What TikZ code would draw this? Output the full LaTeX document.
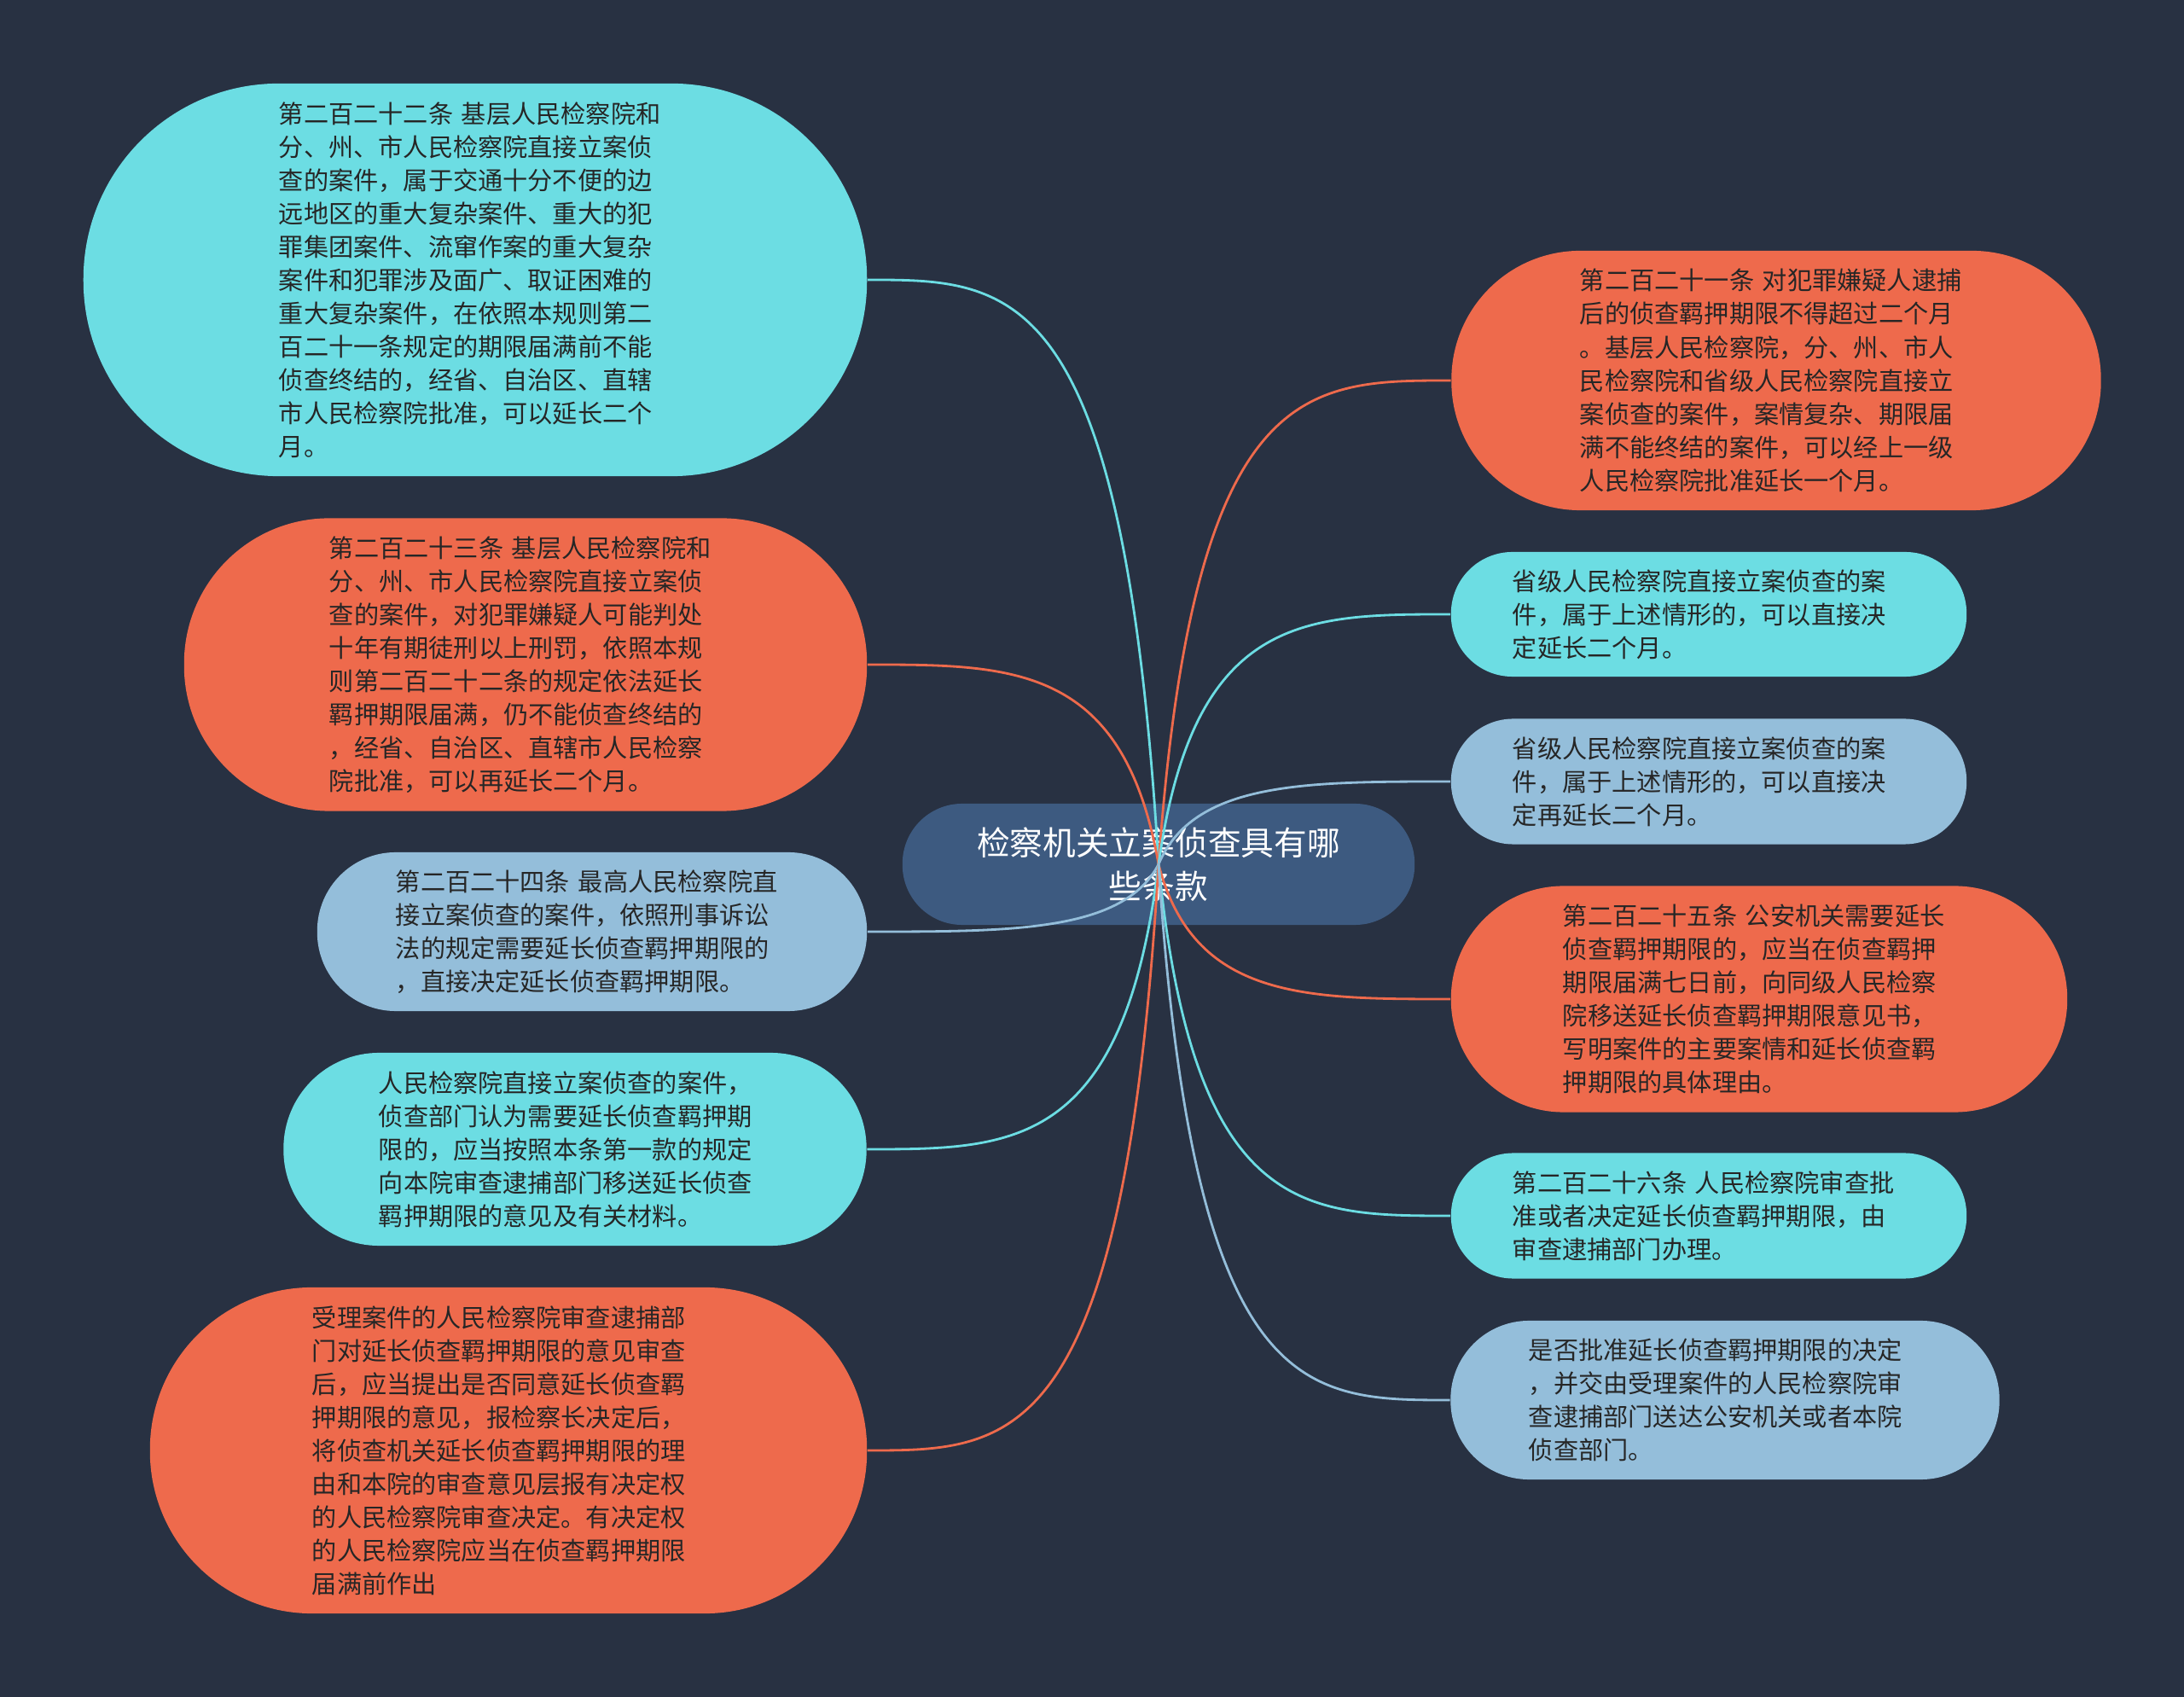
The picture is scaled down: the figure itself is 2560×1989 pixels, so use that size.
\documentclass[tikz,border=0pt]{standalone}
\usepackage{fontspec}
\newfontfamily\cjk{Noto Sans CJK SC}
\usetikzlibrary{calc}
\definecolor{bg}{HTML}{283142}
\definecolor{cy}{HTML}{6CDDE3}
\definecolor{og}{HTML}{EE6A4C}
\definecolor{lb}{HTML}{94BEDA}
\definecolor{rt}{HTML}{3D5A80}
\definecolor{tx}{HTML}{262626}
\begin{document}
\begin{tikzpicture}[x=0.01cm,y=-0.01cm,
  box/.style={rectangle, text width=4.6cm, align=left, inner sep=0pt, text=tx, font=\cjk\fontsize{8.3}{11.1}\selectfont},
  rootbox/.style={rectangle, align=center, inner sep=0pt, text=white, fill=rt, font=\cjk\fontsize{11}{14.5}\selectfont},
  conn/.style={line width=0.8pt}]
\fill[bg] (0,0) rectangle (2560,1989);
\useasboundingbox (0,0) rectangle (2560,1989);

\node[rootbox, minimum width=6.0cm, minimum height=1.42cm, rounded corners=0.70cm] (R) at (1358,1013) {检察机关立案侦查具有哪\\些条款};

\node[box, fill=cy, minimum width=9.18cm, minimum height=4.6cm, rounded corners=2.29cm] (L1) at (557,328) {第二百二十二条 基层人民检察院和\\分、州、市人民检察院直接立案侦\\查的案件，属于交通十分不便的边\\远地区的重大复杂案件、重大的犯\\罪集团案件、流窜作案的重大复杂\\案件和犯罪涉及面广、取证困难的\\重大复杂案件，在依照本规则第二\\百二十一条规定的期限届满前不能\\侦查终结的，经省、自治区、直辖\\市人民检察院批准，可以延长二个\\月。};

\node[box, fill=og, minimum width=8.0cm, minimum height=3.43cm, rounded corners=1.70cm] (L2) at (616,779) {第二百二十三条 基层人民检察院和\\分、州、市人民检察院直接立案侦\\查的案件，对犯罪嫌疑人可能判处\\十年有期徒刑以上刑罚，依照本规\\则第二百二十二条的规定依法延长\\羁押期限届满，仍不能侦查终结的\\，经省、自治区、直辖市人民检察\\院批准，可以再延长二个月。};

\node[box, fill=lb, minimum width=6.44cm, minimum height=1.86cm, rounded corners=0.92cm] (L3) at (694,1092) {第二百二十四条 最高人民检察院直\\接立案侦查的案件，依照刑事诉讼\\法的规定需要延长侦查羁押期限的\\，直接决定延长侦查羁押期限。};

\node[box, fill=cy, minimum width=6.83cm, minimum height=2.26cm, rounded corners=1.12cm] (L4) at (674,1347) {人民检察院直接立案侦查的案件，\\侦查部门认为需要延长侦查羁押期\\限的，应当按照本条第一款的规定\\向本院审查逮捕部门移送延长侦查\\羁押期限的意见及有关材料。};

\node[box, fill=og, minimum width=8.4cm, minimum height=3.82cm, rounded corners=1.90cm] (L5) at (596,1700) {受理案件的人民检察院审查逮捕部\\门对延长侦查羁押期限的意见审查\\后，应当提出是否同意延长侦查羁\\押期限的意见，报检察长决定后，\\将侦查机关延长侦查羁押期限的理\\由和本院的审查意见层报有决定权\\的人民检察院审查决定。有决定权\\的人民检察院应当在侦查羁押期限\\届满前作出};

\node[box, fill=og, minimum width=7.61cm, minimum height=3.04cm, rounded corners=1.51cm] (Q1) at (2082,446) {第二百二十一条 对犯罪嫌疑人逮捕\\后的侦查羁押期限不得超过二个月\\。基层人民检察院，分、州、市人\\民检察院和省级人民检察院直接立\\案侦查的案件，案情复杂、期限届\\满不能终结的案件，可以经上一级\\人民检察院批准延长一个月。};

\node[box, fill=cy, minimum width=6.04cm, minimum height=1.46cm, rounded corners=0.72cm] (Q2) at (2003,720) {省级人民检察院直接立案侦查的案\\件，属于上述情形的，可以直接决\\定延长二个月。};

\node[box, fill=lb, minimum width=6.04cm, minimum height=1.47cm, rounded corners=0.73cm] (Q3) at (2003,916) {省级人民检察院直接立案侦查的案\\件，属于上述情形的，可以直接决\\定再延长二个月。};

\node[box, fill=og, minimum width=7.22cm, minimum height=2.65cm, rounded corners=1.32cm] (Q4) at (2062,1171) {第二百二十五条 公安机关需要延长\\侦查羁押期限的，应当在侦查羁押\\期限届满七日前，向同级人民检察\\院移送延长侦查羁押期限意见书，\\写明案件的主要案情和延长侦查羁\\押期限的具体理由。};

\node[box, fill=cy, minimum width=6.04cm, minimum height=1.47cm, rounded corners=0.73cm] (Q5) at (2003,1425) {第二百二十六条 人民检察院审查批\\准或者决定延长侦查羁押期限，由\\审查逮捕部门办理。};

\node[box, fill=lb, minimum width=6.43cm, minimum height=1.86cm, rounded corners=0.92cm] (Q6) at (2022,1641) {是否批准延长侦查羁押期限的决定\\，并交由受理案件的人民检察院审\\查逮捕部门送达公安机关或者本院\\侦查部门。};

\foreach \n/\c in {L1/cy,L2/og,L3/lb,L4/cy,L5/og}
  \draw[conn,\c] (R.center) .. controls ($(R.center |- \n.east)!0.12!(\n.east)$) and ($(R.center |- \n.east)!0.5!(\n.east)$) .. (\n.east);
\foreach \n/\c in {Q1/og,Q2/cy,Q3/lb,Q4/og,Q5/cy,Q6/lb}
  \draw[conn,\c] (R.center) .. controls ($(R.center |- \n.west)!0.12!(\n.west)$) and ($(R.center |- \n.west)!0.5!(\n.west)$) .. (\n.west);
\end{tikzpicture}
\end{document}
